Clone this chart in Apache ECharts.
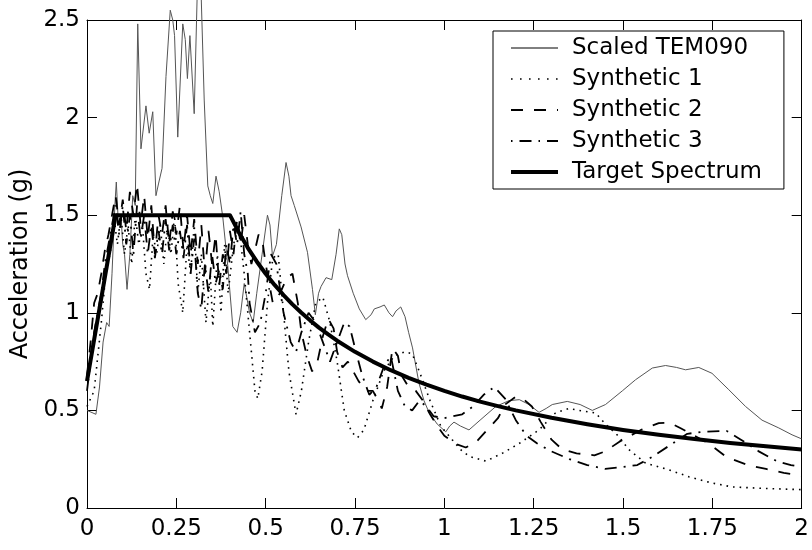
<!DOCTYPE html>
<html>
<head>
<meta charset="utf-8">
<script src="https://cdn.jsdelivr.net/npm/echarts@6/dist/echarts.min.js"></script>
<style>
html,body{margin:0;padding:0;background:#fff;}
#chart{width:812px;height:550px;}
</style>
</head>
<body>
<div id="chart"></div>
<script>
// ---- data (period in s, spectral acceleration in g) ----
var xTickLabels = ['0','0.25','0.5','0.75','1','1.25','1.5','1.75','2'];
var yTickLabels = ['0','0.5','1','1.5','2','2.5'];
var seriesNames = ['Scaled TEM090','Synthetic 1','Synthetic 2','Synthetic 3','Target Spectrum'];

var scaledTEM090 = [
[0,0.50],[0.025,0.48],[0.035,0.62],[0.045,0.85],[0.055,0.95],[0.062,0.93],[0.07,1.2],[0.078,1.55],[0.082,1.67],[0.088,1.45],[0.095,1.5],[0.1,1.35],[0.105,1.3],[0.112,1.12],[0.12,1.3],[0.128,1.6],[0.135,1.55],[0.142,2.48],[0.151,1.84],[0.156,1.85],[0.165,2.06],[0.174,1.92],[0.184,2.03],[0.193,1.60],[0.2,1.66],[0.21,1.74],[0.221,2.21],[0.226,2.22],[0.233,2.55],[0.24,2.5],[0.245,2.42],[0.254,1.90],[0.268,2.48],[0.275,2.4],[0.281,2.2],[0.288,2.42],[0.30,2.02],[0.31,2.75],[0.318,2.72],[0.328,2.09],[0.338,1.65],[0.345,1.6],[0.352,1.56],[0.361,1.70],[0.37,1.62],[0.38,1.49],[0.394,1.24],[0.408,0.93],[0.42,0.9],[0.43,1.0],[0.44,1.15],[0.455,1.0],[0.465,0.95],[0.475,1.1],[0.49,1.3],[0.505,1.50],[0.512,1.45],[0.519,1.29],[0.53,1.35],[0.545,1.6],[0.557,1.77],[0.565,1.7],[0.571,1.60],[0.58,1.55],[0.599,1.44],[0.617,1.31],[0.631,1.12],[0.639,0.99],[0.648,1.1],[0.655,1.135],[0.669,1.18],[0.685,1.17],[0.697,1.3],[0.706,1.43],[0.713,1.4],[0.722,1.25],[0.729,1.19],[0.745,1.1],[0.762,1.02],[0.780,0.965],[0.795,0.99],[0.804,1.02],[0.82,1.03],[0.832,1.04],[0.845,1.0],[0.855,0.98],[0.865,1.01],[0.878,1.03],[0.89,0.98],[0.9,0.9],[0.911,0.82],[0.929,0.64],[0.943,0.55],[0.957,0.49],[0.98,0.43],[1.004,0.39],[1.015,0.42],[1.027,0.44],[1.045,0.42],[1.069,0.40],[1.1,0.45],[1.144,0.52],[1.181,0.55],[1.21,0.555],[1.237,0.53],[1.265,0.49],[1.285,0.51],[1.302,0.53],[1.344,0.546],[1.38,0.53],[1.414,0.50],[1.451,0.53],[1.498,0.60],[1.535,0.657],[1.582,0.717],[1.619,0.73],[1.65,0.72],[1.675,0.708],[1.712,0.72],[1.749,0.69],[1.796,0.606],[1.843,0.52],[1.889,0.45],[1.936,0.41],[1.973,0.375],[2.0,0.354]
];

var synthetic1 = [
[0,0.52],[0.02,0.6],[0.04,0.95],[0.055,1.25],[0.065,1.3],[0.075,1.5],[0.085,1.35],[0.095,1.5],[0.105,1.3],[0.115,1.45],[0.125,1.25],[0.135,1.5],[0.145,1.35],[0.155,1.45],[0.165,1.2],[0.175,1.12],[0.185,1.4],[0.195,1.3],[0.205,1.45],[0.215,1.25],[0.225,1.45],[0.235,1.3],[0.245,1.5],[0.255,1.15],[0.268,1.0],[0.28,1.35],[0.29,1.2],[0.3,1.45],[0.31,1.1],[0.32,1.3],[0.333,0.95],[0.345,1.2],[0.352,0.93],[0.365,1.3],[0.375,1.0],[0.385,1.35],[0.395,1.1],[0.41,1.35],[0.425,1.45],[0.44,1.2],[0.455,0.9],[0.47,0.6],[0.478,0.56],[0.49,0.7],[0.505,1.05],[0.52,1.28],[0.535,1.3],[0.55,1.0],[0.565,0.7],[0.585,0.48],[0.6,0.6],[0.62,0.85],[0.64,1.05],[0.66,1.08],[0.68,0.95],[0.7,0.75],[0.72,0.5],[0.74,0.39],[0.757,0.36],[0.775,0.4],[0.8,0.55],[0.83,0.7],[0.86,0.78],[0.89,0.8],[0.91,0.79],[0.93,0.7],[0.96,0.55],[0.99,0.42],[1.022,0.35],[1.045,0.3],[1.069,0.265],[1.116,0.24],[1.162,0.28],[1.209,0.33],[1.265,0.40],[1.311,0.487],[1.349,0.51],[1.377,0.5],[1.423,0.487],[1.451,0.43],[1.488,0.367],[1.516,0.30],[1.563,0.23],[1.628,0.196],[1.684,0.16],[1.749,0.128],[1.805,0.108],[1.899,0.10],[2.0,0.094]
];

var synthetic2 = [
[0,0.68],[0.01,0.85],[0.02,1.05],[0.03,1.1],[0.04,1.2],[0.05,1.32],[0.06,1.4],[0.07,1.5],[0.08,1.6],[0.09,1.45],[0.1,1.58],[0.11,1.42],[0.12,1.62],[0.13,1.5],[0.14,1.66],[0.15,1.45],[0.16,1.6],[0.17,1.38],[0.18,1.55],[0.19,1.3],[0.2,1.5],[0.21,1.4],[0.22,1.55],[0.23,1.35],[0.24,1.52],[0.25,1.4],[0.26,1.55],[0.27,1.32],[0.28,1.5],[0.29,1.3],[0.3,1.48],[0.31,1.25],[0.32,1.45],[0.33,1.2],[0.34,1.42],[0.35,1.25],[0.36,1.4],[0.37,1.14],[0.38,1.3],[0.39,1.2],[0.4,1.42],[0.41,1.3],[0.42,1.48],[0.43,1.35],[0.44,1.5],[0.45,1.35],[0.46,1.25],[0.47,1.32],[0.48,1.4],[0.49,1.38],[0.5,1.25],[0.52,1.05],[0.54,1.1],[0.56,1.18],[0.575,1.2],[0.59,1.05],[0.6,0.9],[0.615,0.78],[0.63,0.7],[0.645,0.75],[0.66,0.88],[0.675,0.97],[0.69,0.92],[0.7,0.8],[0.715,0.72],[0.73,0.75],[0.745,0.7],[0.76,0.65],[0.78,0.6],[0.8,0.6],[0.815,0.55],[0.825,0.51],[0.84,0.62],[0.855,0.82],[0.87,0.78],[0.88,0.68],[0.9,0.62],[0.92,0.6],[0.94,0.55],[0.96,0.48],[0.98,0.42],[1.0,0.37],[1.03,0.33],[1.06,0.31],[1.09,0.34],[1.12,0.4],[1.15,0.46],[1.17,0.53],[1.2,0.57],[1.22,0.56],[1.245,0.52],[1.27,0.44],[1.3,0.35],[1.33,0.3],[1.37,0.28],[1.42,0.27],[1.45,0.29],[1.49,0.34],[1.55,0.40],[1.6,0.435],[1.63,0.437],[1.66,0.41],[1.7,0.37],[1.74,0.33],[1.79,0.26],[1.85,0.22],[1.9,0.2],[1.95,0.18],[2.0,0.165]
];

var synthetic3 = [
[0,0.6],[0.01,0.75],[0.02,0.9],[0.03,1.0],[0.04,1.1],[0.05,1.25],[0.06,1.35],[0.07,1.45],[0.08,1.55],[0.09,1.4],[0.1,1.55],[0.11,1.35],[0.12,1.5],[0.13,1.3],[0.14,1.55],[0.15,1.38],[0.16,1.5],[0.17,1.3],[0.18,1.45],[0.19,1.28],[0.2,1.42],[0.21,1.3],[0.22,1.48],[0.23,1.32],[0.24,1.45],[0.25,1.3],[0.26,1.42],[0.27,1.28],[0.28,1.45],[0.29,1.2],[0.3,1.38],[0.31,1.1],[0.32,1.02],[0.33,1.25],[0.34,1.1],[0.35,1.3],[0.36,1.15],[0.37,1.22],[0.38,1.12],[0.39,1.35],[0.4,1.25],[0.41,1.45],[0.42,1.35],[0.43,1.52],[0.44,1.3],[0.45,1.2],[0.455,1.05],[0.47,0.9],[0.485,0.95],[0.5,1.1],[0.515,1.3],[0.53,1.25],[0.55,1.0],[0.57,0.85],[0.585,0.8],[0.6,0.9],[0.62,1.0],[0.64,0.95],[0.66,0.85],[0.68,0.75],[0.7,0.85],[0.72,0.95],[0.735,0.93],[0.75,0.82],[0.77,0.68],[0.79,0.58],[0.81,0.62],[0.83,0.72],[0.85,0.78],[0.87,0.6],[0.89,0.52],[0.91,0.5],[0.93,0.55],[0.95,0.52],[0.97,0.47],[1.0,0.46],[1.05,0.48],[1.08,0.52],[1.11,0.58],[1.14,0.62],[1.17,0.56],[1.2,0.45],[1.23,0.37],[1.26,0.33],[1.3,0.29],[1.35,0.25],[1.4,0.22],[1.45,0.2],[1.5,0.21],[1.54,0.22],[1.58,0.26],[1.63,0.32],[1.68,0.38],[1.72,0.39],[1.79,0.395],[1.83,0.35],[1.88,0.29],[1.93,0.24],[1.97,0.22],[2.0,0.21]
];

var targetSpectrum = [
[0,0.65],[0.08,1.5],[0.4,1.5],[0.425,1.412],[0.45,1.333],[0.475,1.263],[0.5,1.2],[0.525,1.143],[0.55,1.091],[0.575,1.043],[0.6,1.0],[0.625,0.96],[0.65,0.923],[0.675,0.889],[0.7,0.857],[0.75,0.8],[0.8,0.75],[0.85,0.706],[0.9,0.667],[0.95,0.632],[1.0,0.6],[1.05,0.571],[1.1,0.545],[1.15,0.522],[1.2,0.5],[1.3,0.462],[1.4,0.429],[1.5,0.4],[1.6,0.375],[1.7,0.353],[1.8,0.333],[1.9,0.316],[2.0,0.3]
];

// ---- chart ----
var FONT = 'DejaVu Sans';
var chart = echarts.init(document.getElementById('chart'), null, {renderer:'canvas'});

function axisCommon(extra){
  var base = {
    type:'value',
    axisLine:{show:true,onZero:false,lineStyle:{color:'#000',width:1}},
    axisTick:{show:true,inside:true,length:10,lineStyle:{color:'#000',width:1}},
    splitLine:{show:false}
  };
  for (var k in extra) base[k] = extra[k];
  return base;
}

var legendLine = [
  {color:'#000',width:1,type:'solid'},
  {color:'#000',width:1.6,type:[1.6,7.4]},
  {color:'#000',width:2,type:[12,11]},
  {color:'#000',width:2,type:[1.5,7,12,7]},
  {color:'#000',width:4,type:'solid'}
];

var option = {
  backgroundColor:'#fff',
  animation:false,
  grid:{left:87,top:20,width:716,height:488,containLabel:false},
  legend:{
    left:493, top:31,
    orient:'vertical',
    padding:[5,22,5,16],
    itemGap:7,
    itemWidth:47,
    itemHeight:14,
    backgroundColor:'#fff',
    borderColor:'#000',
    borderWidth:1,
    borderRadius:0,
    itemStyle:{opacity:0},
    textStyle:{fontFamily:FONT,fontSize:23,color:'#000',padding:[0,0,0,9],lineHeight:24},
    data:seriesNames.map(function(n,i){return {name:n,lineStyle:legendLine[i],itemStyle:{opacity:0}};})
  },
  xAxis:[
    axisCommon({position:'bottom',min:0,max:2,interval:0.25,
      axisLabel:{color:'#000',fontFamily:FONT,fontSize:23,margin:10,
        formatter:function(v){return xTickLabels[Math.round(v/0.25)];}}}),
    axisCommon({position:'top',min:0,max:2,interval:0.25,axisLabel:{show:false}})
  ],
  yAxis:[
    axisCommon({position:'left',min:0,max:2.5,interval:0.5,
      name:'Acceleration (g)',nameLocation:'middle',nameGap:36,
      nameTextStyle:{color:'#000',fontFamily:FONT,fontSize:24},
      axisLabel:{color:'#000',fontFamily:FONT,fontSize:23,margin:7,
        formatter:function(v){return yTickLabels[Math.round(v/0.5)];}}}),
    axisCommon({position:'right',min:0,max:2.5,interval:0.5,axisLabel:{show:false}})
  ],
  series:[
    {name:seriesNames[0],type:'line',data:scaledTEM090,symbol:'none',clip:false,
      lineStyle:{color:'#555',width:1,type:'solid'},itemStyle:{color:'#000'},z:2},
    {name:seriesNames[1],type:'line',data:synthetic1,symbol:'none',
      lineStyle:{color:'#000',width:1.6,type:[1.6,5]},itemStyle:{color:'#000'},z:3},
    {name:seriesNames[2],type:'line',data:synthetic2,symbol:'none',
      lineStyle:{color:'#000',width:1.8,type:[12,11]},itemStyle:{color:'#000'},z:3},
    {name:seriesNames[3],type:'line',data:synthetic3,symbol:'none',
      lineStyle:{color:'#000',width:1.8,type:[12,7,2,7]},itemStyle:{color:'#000'},z:3},
    {name:seriesNames[4],type:'line',data:targetSpectrum,symbol:'none',
      lineStyle:{color:'#000',width:4,type:'solid',join:'round'},itemStyle:{color:'#000'},z:4}
  ]
};
chart.setOption(option);
</script>
</body>
</html>
